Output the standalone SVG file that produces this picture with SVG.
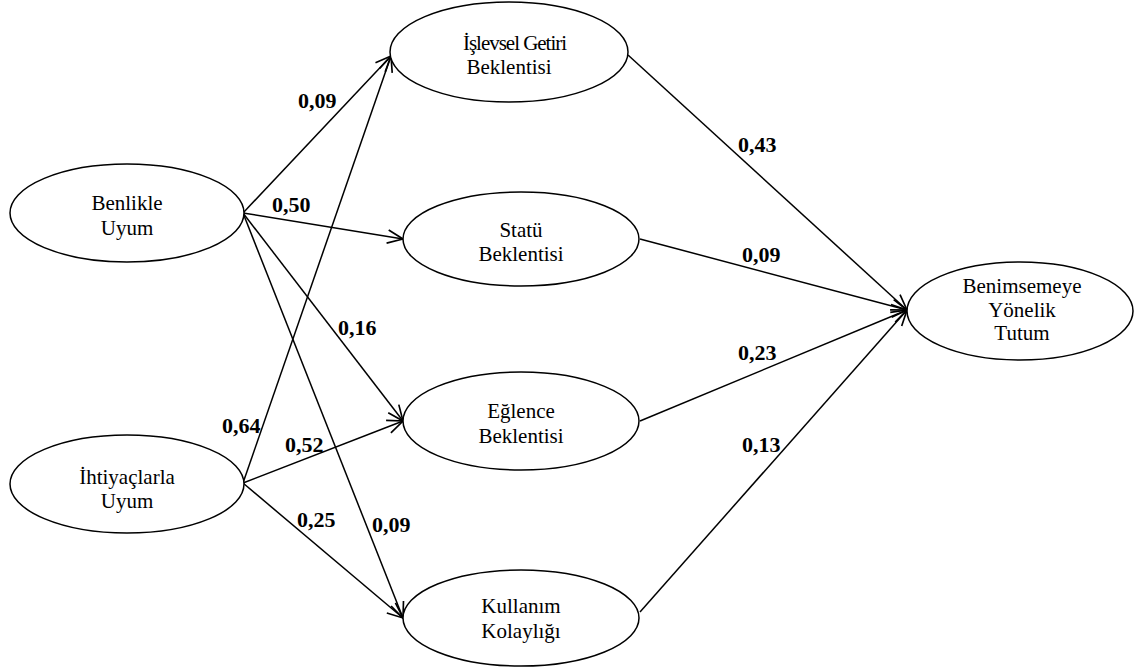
<svg xmlns="http://www.w3.org/2000/svg" width="1134" height="669" viewBox="0 0 1134 669">
<style>
.node ellipse{fill:#fff;stroke:#000;stroke-width:1.5}
.node text{font-family:"Liberation Serif","Times New Roman","DejaVu Serif",serif;font-size:21px;fill:#000;text-anchor:middle}
.edge line{stroke:#000;stroke-width:1.5;fill:none;marker-end:url(#arr)}
.lbl{font-family:"Liberation Serif","Times New Roman","DejaVu Serif",serif;font-size:22px;font-weight:bold;fill:#000}
</style>
<defs>
<marker id="arr" markerUnits="userSpaceOnUse" markerWidth="20" markerHeight="20" viewBox="-16 -8 18 16" refX="0" refY="0" orient="auto">
<path d="M-14,-6 L0,0 L-14,6" fill="none" stroke="#000" stroke-width="1.5"/>
</marker>
</defs>
<rect width="1134" height="669" fill="#fff"/>
<g id="connectors" class="edge">
<line x1="243" y1="213" x2="391" y2="56"/>
<line x1="243" y1="213" x2="403" y2="239"/>
<line x1="243" y1="213" x2="403" y2="421"/>
<line x1="243" y1="213" x2="403" y2="618"/>
<line x1="243" y1="483" x2="391" y2="56"/>
<line x1="243" y1="483" x2="403" y2="421"/>
<line x1="243" y1="483" x2="403" y2="618"/>
<line x1="628" y1="55" x2="907" y2="310"/>
<line x1="640" y1="239" x2="907" y2="310"/>
<line x1="640" y1="421" x2="907" y2="310"/>
<line x1="640" y1="612" x2="907" y2="310"/>
</g>
<g id="n-benlikle" class="node">
<ellipse cx="127" cy="213" rx="117" ry="49"/>
<text x="127" y="210">Benlikle</text>
<text x="127" y="235">Uyum</text>
</g>
<g id="n-ihtiyaclarla" class="node">
<ellipse cx="127" cy="484" rx="117" ry="49"/>
<text x="127" y="484">İhtiyaçlarla</text>
<text x="127" y="508">Uyum</text>
</g>
<g id="n-islevsel" class="node">
<ellipse cx="509" cy="52" rx="119" ry="50"/>
<text x="515" y="50" textLength="104" lengthAdjust="spacing">İşlevsel Getiri</text>
<text x="509" y="74">Beklentisi</text>
</g>
<g id="n-statu" class="node">
<ellipse cx="521" cy="239" rx="118" ry="47"/>
<text x="521" y="237">Statü</text>
<text x="521" y="261">Beklentisi</text>
</g>
<g id="n-eglence" class="node">
<ellipse cx="521" cy="421" rx="118" ry="49"/>
<text x="521" y="418">Eğlence</text>
<text x="521" y="443">Beklentisi</text>
</g>
<g id="n-kullanim" class="node">
<ellipse cx="521" cy="618" rx="118" ry="48"/>
<text x="521" y="613">Kullanım</text>
<text x="521" y="638">Kolaylığı</text>
</g>
<g id="n-benimsemeye" class="node">
<ellipse cx="1020" cy="311" rx="113" ry="49"/>
<text x="1022" y="293">Benimsemeye</text>
<text x="1022" y="317">Yönelik</text>
<text x="1022" y="340">Tutum</text>
</g>
<g id="labels">
<text class="lbl" x="298" y="108">0,09</text>
<text class="lbl" x="272" y="212">0,50</text>
<text class="lbl" x="338" y="335">0,16</text>
<text class="lbl" x="222" y="433">0,64</text>
<text class="lbl" x="285" y="452">0,52</text>
<text class="lbl" x="297" y="527">0,25</text>
<text class="lbl" x="372" y="532">0,09</text>
<text class="lbl" x="738" y="152">0,43</text>
<text class="lbl" x="742" y="262">0,09</text>
<text class="lbl" x="738" y="360">0,23</text>
<text class="lbl" x="742" y="452">0,13</text>
</g>
</svg>
